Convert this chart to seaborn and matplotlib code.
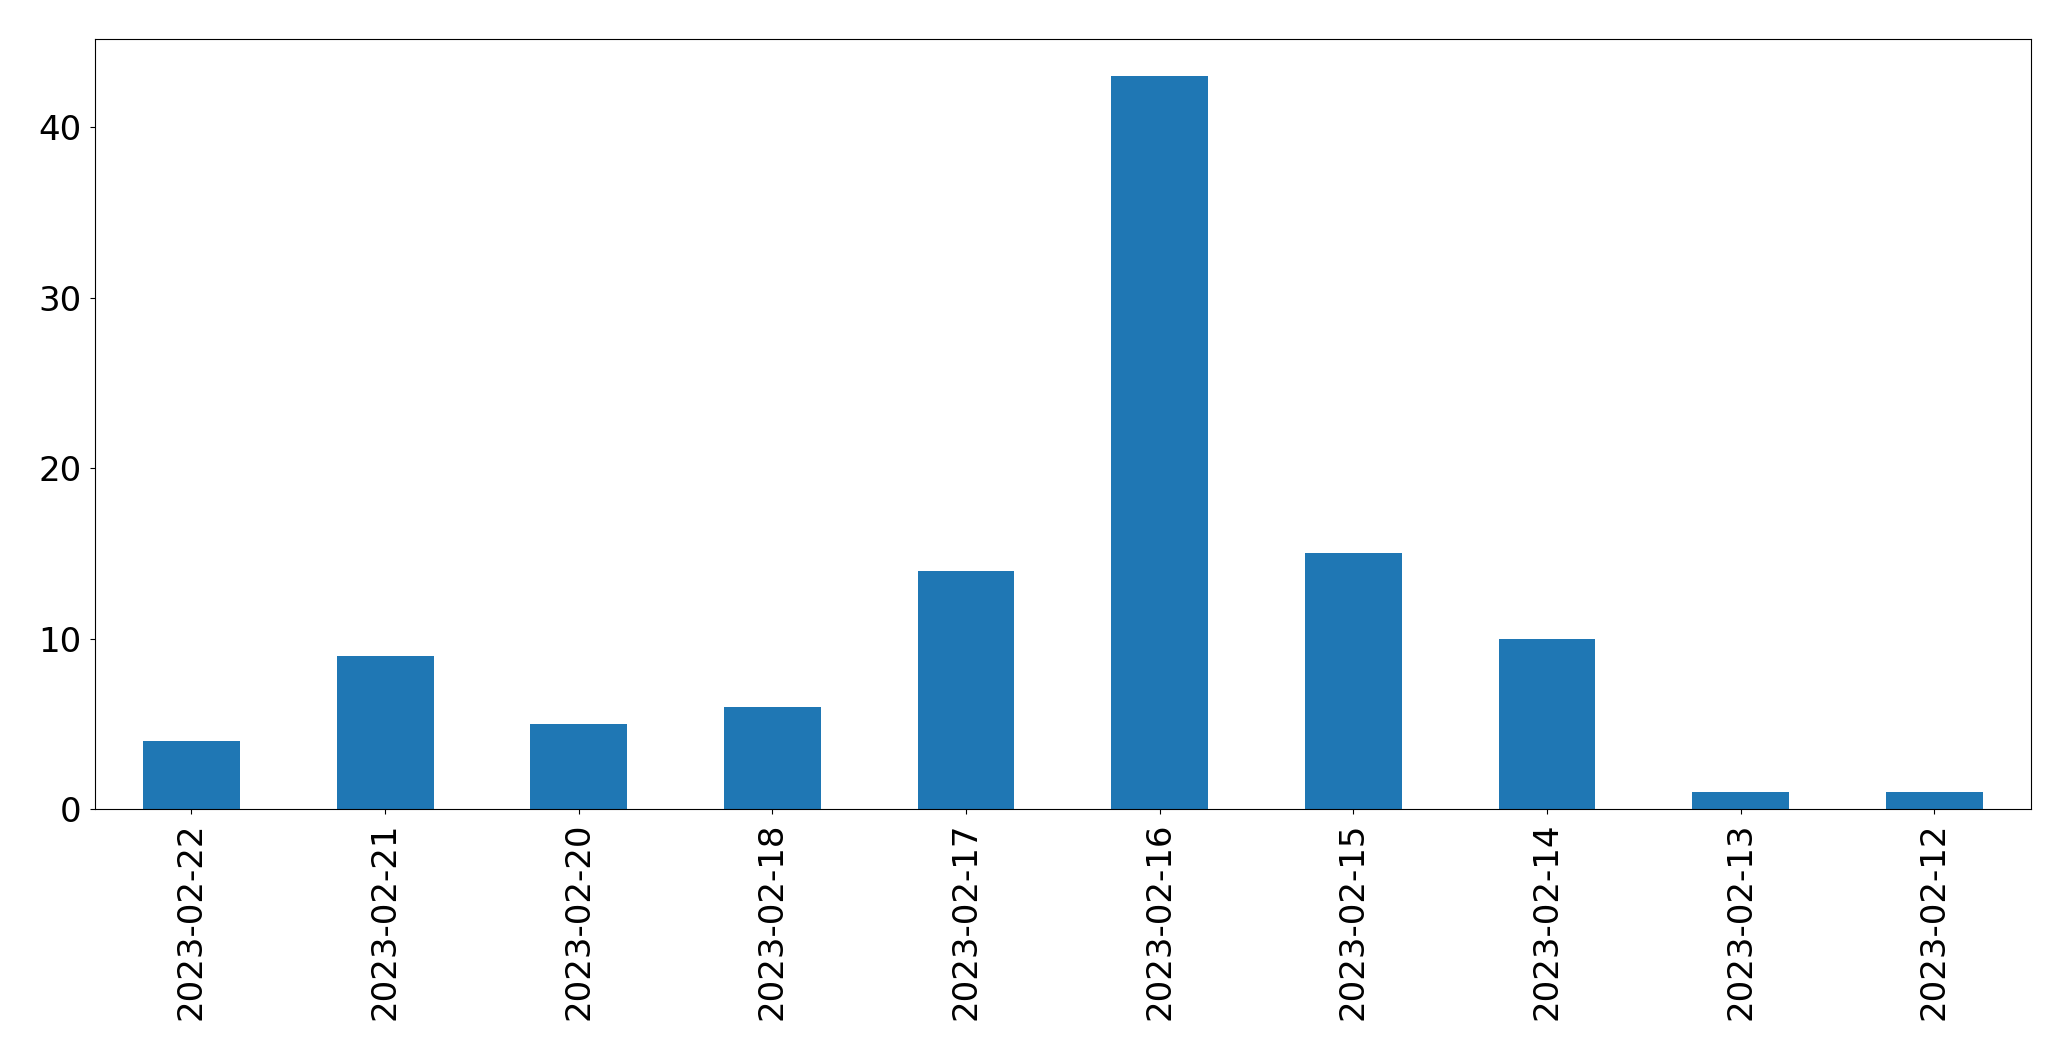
import pandas as pd
import numpy as np
import seaborn as sns
import matplotlib.pyplot as plt

dates = ['2023-02-22', '2023-02-21', '2023-02-20', '2023-02-18', '2023-02-17',
         '2023-02-16', '2023-02-15', '2023-02-14', '2023-02-13', '2023-02-12']
counts = [4, 9, 5, 6, 14, 43, 15, 10, 1, 1]

df = pd.DataFrame({'date': dates, 'count': counts})

plt.rcParams['font.size'] = 24.5
fig = plt.figure(figsize=(20.71, 10.61), dpi=100)
ax = fig.add_axes([0.0457, 0.2372, 0.935, 0.7258])

sns.barplot(data=df, x='date', y='count', color='#1f77b4', saturation=1,
            width=0.5, ax=ax)

ax.set_xlim(-0.5, len(dates) - 0.5)
ax.set_ylim(0, max(counts) * 1.05)
ax.set_xlabel('')
ax.set_ylabel('')
ax.tick_params(axis='both', length=3.8, pad=5.5)
ax.tick_params(axis='x', labelrotation=90)

fig.savefig('out.png', dpi=100)
